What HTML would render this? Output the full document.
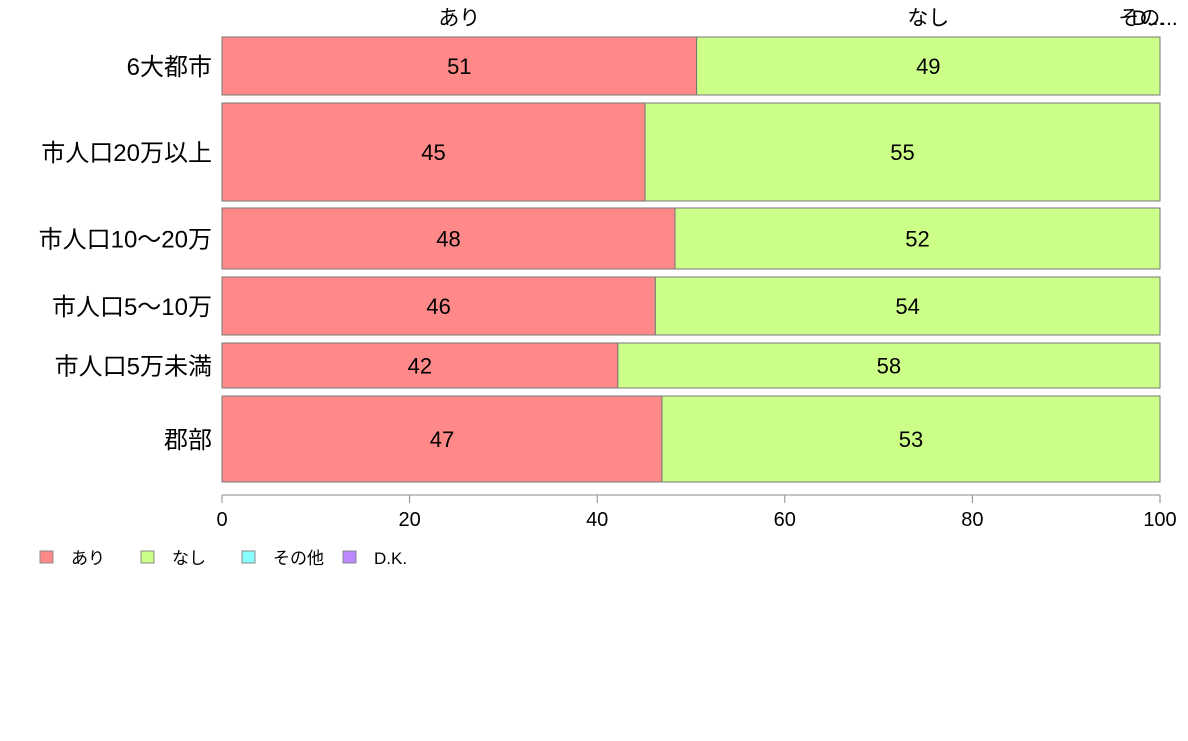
<!DOCTYPE html>
<html><head><meta charset="utf-8"><style>
body{margin:0;background:#fff;font-family:"Liberation Sans","Noto Sans CJK JP",sans-serif}
</style></head><body>
<svg width="1188" height="736" id="c" style="font-family:'Liberation Sans','Noto Sans CJK JP',sans-serif"></svg>
<script>
const categories=["6大都市","市人口20万以上","市人口10〜20万","市人口5〜10万","市人口5万未満","郡部"];
const seriesNames=["あり","なし","その他","D.K."];
const ari=[50.6,45.1,48.3,46.2,42.2,46.9];
const nashi=[49.4,54.9,51.7,53.8,57.8,53.1];
const sonota=[0,0,0,0,0,0];
const dk=[0,0,0,0,0,0];
const labelsAri=["51","45","48","46","42","47"];
const labelsNashi=["49","55","52","54","58","53"];
const ticks=[0,20,40,60,80,100];
const rowTop=[37,103,208,277,343,396];
const rowH=[58,98,61,58,45,86];
const colors=["#ff8888","#ccff88","#88ffff","#bb88ff"];
const NS="http://www.w3.org/2000/svg",svg=document.getElementById('c');
const x=v=>222+v*9.38;
function mk(t,a,txt){const e=document.createElementNS(NS,t);for(const k in a)e.setAttribute(k,a[k]);if(txt!=null)e.textContent=txt;svg.appendChild(e);return e;}
const series=[ari,nashi,sonota,dk];
categories.forEach((c,i)=>{
  let cum=0;
  series.forEach((s,j)=>{
    const v=s[i];
    if(v>0){const r=mk('rect',{x:x(cum),y:rowTop[i],width:x(cum+v)-x(cum),height:rowH[i],fill:colors[j],stroke:'#777','stroke-width':1});
    
    }
    cum+=v;
  });
  const l1=mk('text',{x:x(ari[i]/2),y:rowTop[i]+rowH[i]/2+8,'text-anchor':'middle','font-size':22},labelsAri[i]);
  
  
  const l2=mk('text',{x:x(ari[i]+nashi[i]/2),y:rowTop[i]+rowH[i]/2+8,'text-anchor':'middle','font-size':22},labelsNashi[i]);
  
  
  const cl=mk('text',{x:212,y:rowTop[i]+rowH[i]/2+9,'text-anchor':'end','font-size':24},c);
  
  
});
// top series labels
[[x(ari[0]/2),"あり"],[x(ari[0]+nashi[0]/2),"なし"],[1148,"その..."],[1148,"D..."]].forEach(p=>{
  const t=mk('text',{x:p[0],y:25,'text-anchor':'middle','font-size':21},p[1]);
  
  
});
const ax=mk('line',{x1:x(0),x2:x(100),y1:495,y2:495,stroke:'#888'});


ticks.forEach(t=>{
  const tl=mk('line',{x1:x(t),x2:x(t),y1:495,y2:503,stroke:'#888'});
  
  
  const tt=mk('text',{x:x(t),y:526,'text-anchor':'middle','font-size':20},String(t));
  
  
});
const lx=[40,141,242,343];
seriesNames.forEach((n,j)=>{
  const r=mk('rect',{x:lx[j],y:551,width:13,height:12,fill:colors[j],stroke:'#888'});
  
  
  const t=mk('text',{x:lx[j]+31,y:564,'font-size':17},n);
  
  
});
</script>
</body></html>
